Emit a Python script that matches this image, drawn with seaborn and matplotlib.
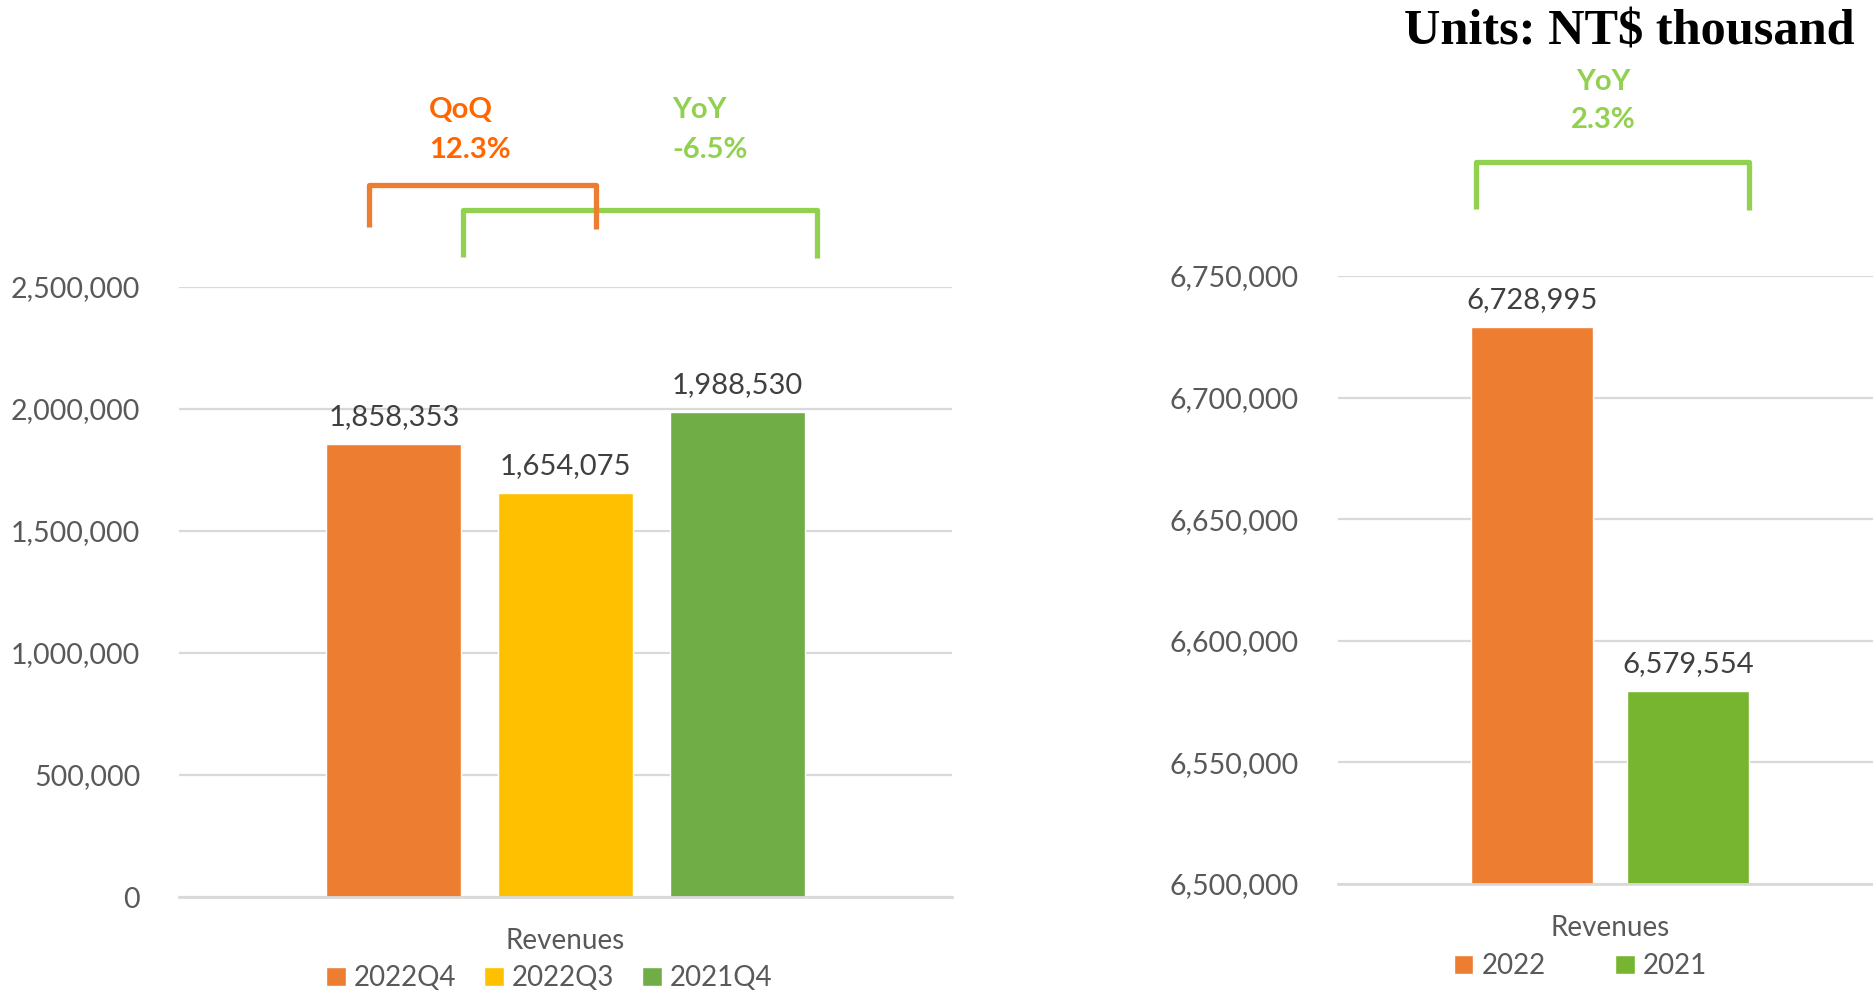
import pandas as pd
import numpy as np
import matplotlib.pyplot as plt
import seaborn as sns
from matplotlib.lines import Line2D
from matplotlib.ticker import StrMethodFormatter

# quarterly revenues (left) and annual revenues (right), NT$ thousand
LEFT_SERIES = ['2022Q4', '2022Q3', '2021Q4']
LEFT_VALUES = [1858353, 1654075, 1988530]
LEFT_COLORS = ['#ED7D31', '#FFC000', '#70AD47']
LEFT_TICKS = [0, 500000, 1000000, 1500000, 2000000, 2500000]

RIGHT_SERIES = ['2022', '2021']
RIGHT_VALUES = [6728995, 6579554]
RIGHT_COLORS = ['#ED7D31', '#77B530']
RIGHT_TICKS = [6500000, 6550000, 6600000, 6650000, 6700000, 6750000]

CATEGORY = 'Revenues'
QOQ_TEXT = ['QoQ', '12.3%']
YOY_Q_TEXT = ['YoY', '-6.5%']
YOY_Y_TEXT = ['YoY', '2.3%']

W, H = 1873, 991


def fx(px):
    return px / W


def fy(py):
    return 1 - py / H


sns.set_theme(style='white')
plt.rcParams['font.family'] = ['Lato', 'DejaVu Sans']

fig = plt.figure(figsize=(W / 100, H / 100), dpi=100)
ax1 = fig.add_axes([fx(179), fy(897), (952 - 179) / W, (897 - 287) / H])
ax2 = fig.add_axes([fx(1338), fy(884), (1882 - 1338) / W, (884 - 276) / H])

df1 = pd.DataFrame({'metric': [CATEGORY] * len(LEFT_SERIES),
                    'series': LEFT_SERIES, 'value': LEFT_VALUES})
df2 = pd.DataFrame({'metric': [CATEGORY] * len(RIGHT_SERIES),
                    'series': RIGHT_SERIES, 'value': RIGHT_VALUES})

sns.barplot(data=df1, x='metric', y='value', hue='series', palette=LEFT_COLORS,
            width=0.666, gap=0.213, saturation=1, ax=ax1)
sns.barplot(data=df2, x='metric', y='value', hue='series', palette=RIGHT_COLORS,
            width=0.572, gap=0.219, saturation=1, ax=ax2)

setups = [(ax1, LEFT_TICKS, 22, (549.5, 978), 1.0, 3),
          (ax2, RIGHT_TICKS, 22, (1580.5, 966), 2.5, 2)]
for ax, ticks, xpad, leg_xy, colsp, ncol in setups:
    ax.set_xlim(-0.5, 0.5)
    ax.set_ylim(ticks[0], ticks[-1])
    ax.set_yticks(ticks)
    ax.yaxis.set_major_formatter(StrMethodFormatter('{x:,.0f}'))
    ax.tick_params(axis='y', length=0, pad=28, labelsize=20.5, labelcolor='#595959')
    ax.tick_params(axis='x', length=0, pad=xpad, labelsize=20, labelcolor='#595959')
    ax.set_xlabel('')
    ax.set_ylabel('')
    ax.yaxis.grid(True, color='#D9D9D9', linewidth=1.6)
    ax.set_axisbelow(True)
    for side in ['top', 'left', 'right']:
        ax.spines[side].set_visible(False)
    ax.spines['bottom'].set_color('#D9D9D9')
    ax.spines['bottom'].set_linewidth(2)
    for c in ax.containers:
        ax.bar_label(c, fmt='{:,.0f}', padding=10, fontsize=21, color='#404040')
    ax.legend(loc='center', bbox_to_anchor=(fx(leg_xy[0]), fy(leg_xy[1])),
              bbox_transform=fig.transFigure, ncol=ncol, frameon=False,
              fontsize=20, handlelength=0.7, handleheight=0.7,
              handletextpad=0.3, columnspacing=colsp, labelcolor='#595959',
              borderpad=0)

# brackets above the bars
brackets = [([463, 463, 817, 817], [257, 210, 210, 258], '#92D050'),
            ([369, 369, 596, 596], [227, 185, 185, 229], '#ED7D31'),
            ([1476, 1476, 1749, 1749], [209, 162, 162, 210], '#92D050')]
for xs, ys, col in brackets:
    fig.add_artist(Line2D([fx(x) for x in xs], [fy(y) for y in ys], color=col,
                          linewidth=3.8, solid_joinstyle='round',
                          solid_capstyle='butt', transform=fig.transFigure))

for (label, pct), x, ys, col, ha in [(QOQ_TEXT, 429, (118, 158), '#FF6600', 'left'),
                                       (YOY_Q_TEXT, 672, (118, 158), '#92D050', 'left'),
                                       (YOY_Y_TEXT, 1603, (90, 128), '#92D050', 'center')]:
    fig.text(fx(x), fy(ys[0]), label, ha=ha, va='baseline', fontsize=21,
             fontweight='bold', color=col)
    fig.text(fx(x), fy(ys[1]), pct, ha=ha, va='baseline', fontsize=21,
             fontweight='bold', color=col)

fig.text(fx(1855), fy(45), r'Units: NT\$ thousand', ha='right', va='baseline',
         fontsize=36.3, fontweight='bold', family=['Liberation Serif', 'DejaVu Serif'],
         color='black')

fig.savefig('out.png', dpi=100, facecolor='white')
